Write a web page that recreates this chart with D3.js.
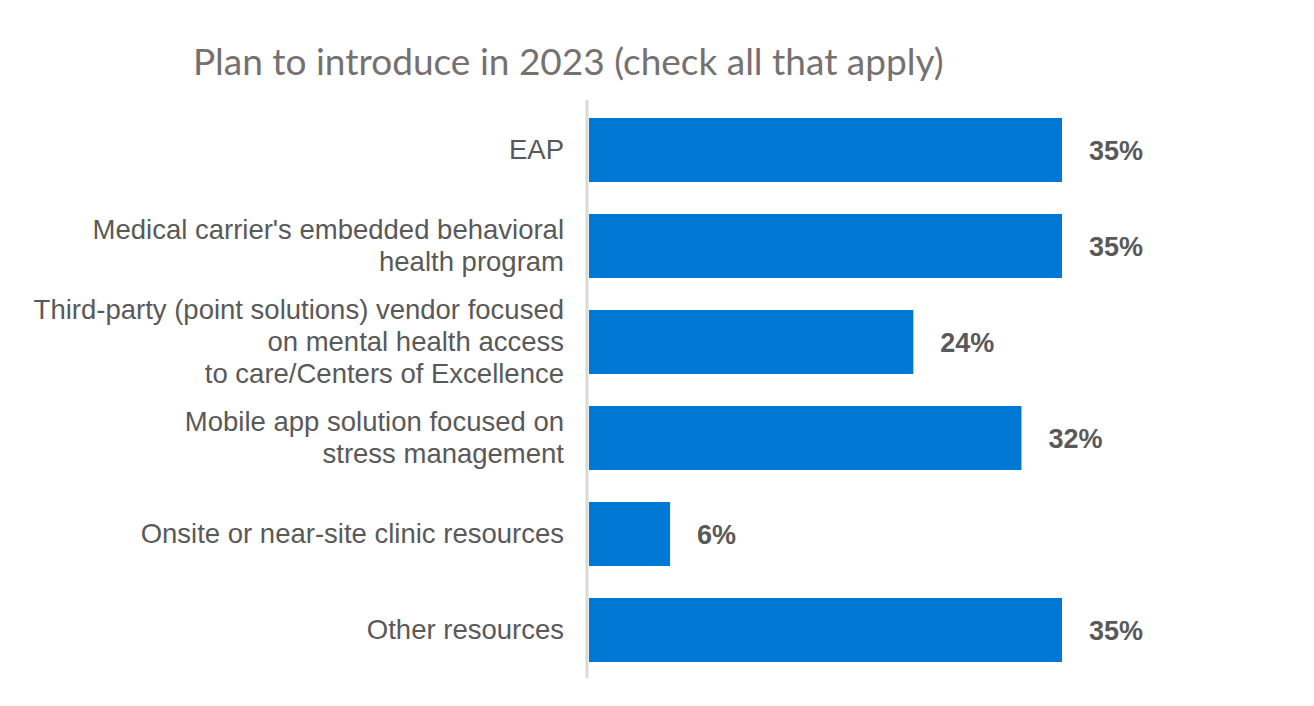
<!DOCTYPE html>
<html>
<head>
<meta charset="utf-8">
<script src="https://cdn.jsdelivr.net/npm/d3@7"></script>
<style>
  body { margin: 0; background: #fff; }
</style>
</head>
<body>
<script>
// data
const categories = [
  ["EAP"],
  ["Medical carrier's embedded behavioral", "health program"],
  ["Third-party (point solutions) vendor focused", "on mental health access", "to care/Centers of Excellence"],
  ["Mobile app solution focused on", "stress management"],
  ["Onsite or near-site clinic resources"],
  ["Other resources"]
];
const values = [35, 35, 24, 32, 6, 35];
const title = "Plan to introduce in 2023 (check all that apply)";

const width = 1314;
const height = 706;

const svg = d3.select("body").append("svg")
  .attr("width", width)
  .attr("height", height);

const x = d3.scaleLinear().domain([0, 35]).range([589, 1062]);
const y = d3.scaleBand()
  .domain(d3.range(values.length))
  .range([102, 678])
  .paddingInner(1 / 3)
  .paddingOuter(1 / 6);

// title
svg.append("text")
  .attr("x", 193)
  .attr("y", 75)
  .style("font-family", "Lato, 'Open Sans', sans-serif")
  .style("font-size", "37px")
  .style("fill", "#767171")
  .text(title);

// bars
svg.selectAll("rect.bar")
  .data(values)
  .enter()
  .append("rect")
  .attr("class", "bar")
  .attr("x", x(0))
  .attr("y", (d, i) => y(i))
  .attr("width", d => x(d) - x(0))
  .attr("height", y.bandwidth())
  .style("fill", "#0078D4");

// axis line
svg.append("line")
  .attr("x1", 587).attr("x2", 587)
  .attr("y1", 100).attr("y2", 678)
  .style("stroke", "#d9d9d9")
  .style("stroke-width", 3);

// category labels
const lineH = 32;
svg.selectAll("text.cat")
  .data(categories)
  .enter()
  .append("text")
  .attr("class", "cat")
  .attr("text-anchor", "end")
  .style("font-family", "'Liberation Sans', Arial, sans-serif")
  .style("font-size", "27.5px")
  .style("fill", "#595959")
  .each(function (lines, i) {
    const cy = y(i) + y.bandwidth() / 2;
    const y0 = cy - (lines.length - 1) * lineH / 2 + 9;
    d3.select(this).selectAll("tspan")
      .data(lines)
      .enter()
      .append("tspan")
      .attr("x", 564)
      .attr("y", (l, j) => y0 + j * lineH)
      .text(l => l);
  });

// value labels
svg.selectAll("text.val")
  .data(values)
  .enter()
  .append("text")
  .attr("class", "val")
  .attr("x", d => x(d) + 27)
  .attr("y", (d, i) => y(i) + y.bandwidth() / 2 + 10)
  .style("font-family", "'Liberation Sans', Arial, sans-serif")
  .style("font-size", "27px")
  .style("font-weight", "bold")
  .style("fill", "#595959")
  .text(d => d + "%");
</script>
</body>
</html>
